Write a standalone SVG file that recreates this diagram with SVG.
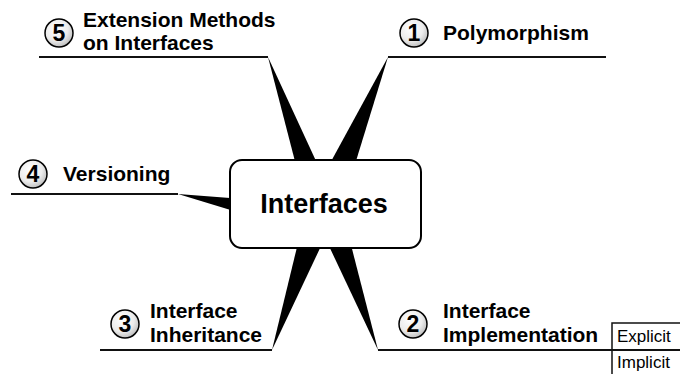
<svg xmlns="http://www.w3.org/2000/svg" width="680" height="374" viewBox="0 0 680 374">
<defs>
<radialGradient id="g" cx="0.4" cy="0.35" r="0.7">
<stop offset="0" stop-color="#ffffff"/>
<stop offset="0.6" stop-color="#ececec"/>
<stop offset="1" stop-color="#b8b8b8"/>
</radialGradient>
</defs>
<style>
.ln{stroke:#111;stroke-width:2;fill:none}
.wd{fill:#000;stroke:none}
.num{fill:url(#g);stroke:#000;stroke-width:1.5}
.nt{font-family:"Liberation Sans",Arial,sans-serif;font-weight:bold;font-size:23px;fill:#000;text-anchor:middle}
.lb{font-family:"Liberation Sans",Arial,sans-serif;font-weight:bold;font-size:21px;fill:#000}
.tb{font-family:"Liberation Sans",Arial,sans-serif;font-size:17px;fill:#000}
</style>
<rect width="680" height="374" fill="#fff"/>
<g id="connectors">
<polygon class="wd" points="268,57 305,200 334,200"/>
<polygon class="wd" points="388,57 310,200 344,200"/>
<polygon class="wd" points="272,350 306,210 338,210"/>
<polygon class="wd" points="378,350 312,210 342,210"/>
<polygon class="wd" points="178,194 280,202 280,225"/>
<line class="ln" x1="39" y1="57" x2="268" y2="57"/>
<line class="ln" x1="388" y1="57" x2="606" y2="57"/>
<line class="ln" x1="11" y1="194" x2="178" y2="194"/>
<line class="ln" x1="100" y1="350" x2="272" y2="350"/>
<line class="ln" x1="378" y1="350" x2="680" y2="350"/>
</g>
<g id="center">
<rect x="230" y="160" width="191" height="88" rx="12" fill="#fff" stroke="#000" stroke-width="2"/>
<text x="324" y="213" font-family="'Liberation Sans',Arial,sans-serif" font-weight="bold" font-size="27" text-anchor="middle">Interfaces</text>
</g>
<g id="n1">
<circle class="num" cx="414" cy="33" r="14"/>
<text class="nt" x="414" y="41">1</text>
<text class="lb" x="443" y="40">Polymorphism</text>
</g>
<g id="n2">
<circle class="num" cx="413" cy="324" r="14"/>
<text class="nt" x="413" y="332">2</text>
<text class="lb" x="443" y="318">Interface</text>
<text class="lb" x="443" y="342">Implementation</text>
</g>
<g id="table">
<polyline class="ln" points="612,374 612,323 680,323" style="stroke-width:1.5"/>
<text class="tb" x="617" y="342">Explicit</text>
<text class="tb" x="617" y="368">Implicit</text>
</g>
<g id="n3">
<circle class="num" cx="125" cy="324" r="14"/>
<text class="nt" x="125" y="332">3</text>
<text class="lb" x="150" y="318">Interface</text>
<text class="lb" x="150" y="342">Inheritance</text>
</g>
<g id="n4">
<circle class="num" cx="33" cy="174" r="14"/>
<text class="nt" x="33" y="182">4</text>
<text class="lb" x="63" y="181">Versioning</text>
</g>
<g id="n5">
<circle class="num" cx="59" cy="33" r="14"/>
<text class="nt" x="59" y="41">5</text>
<text class="lb" x="83" y="27">Extension Methods</text>
<text class="lb" x="83" y="50">on Interfaces</text>
</g>
</svg>
